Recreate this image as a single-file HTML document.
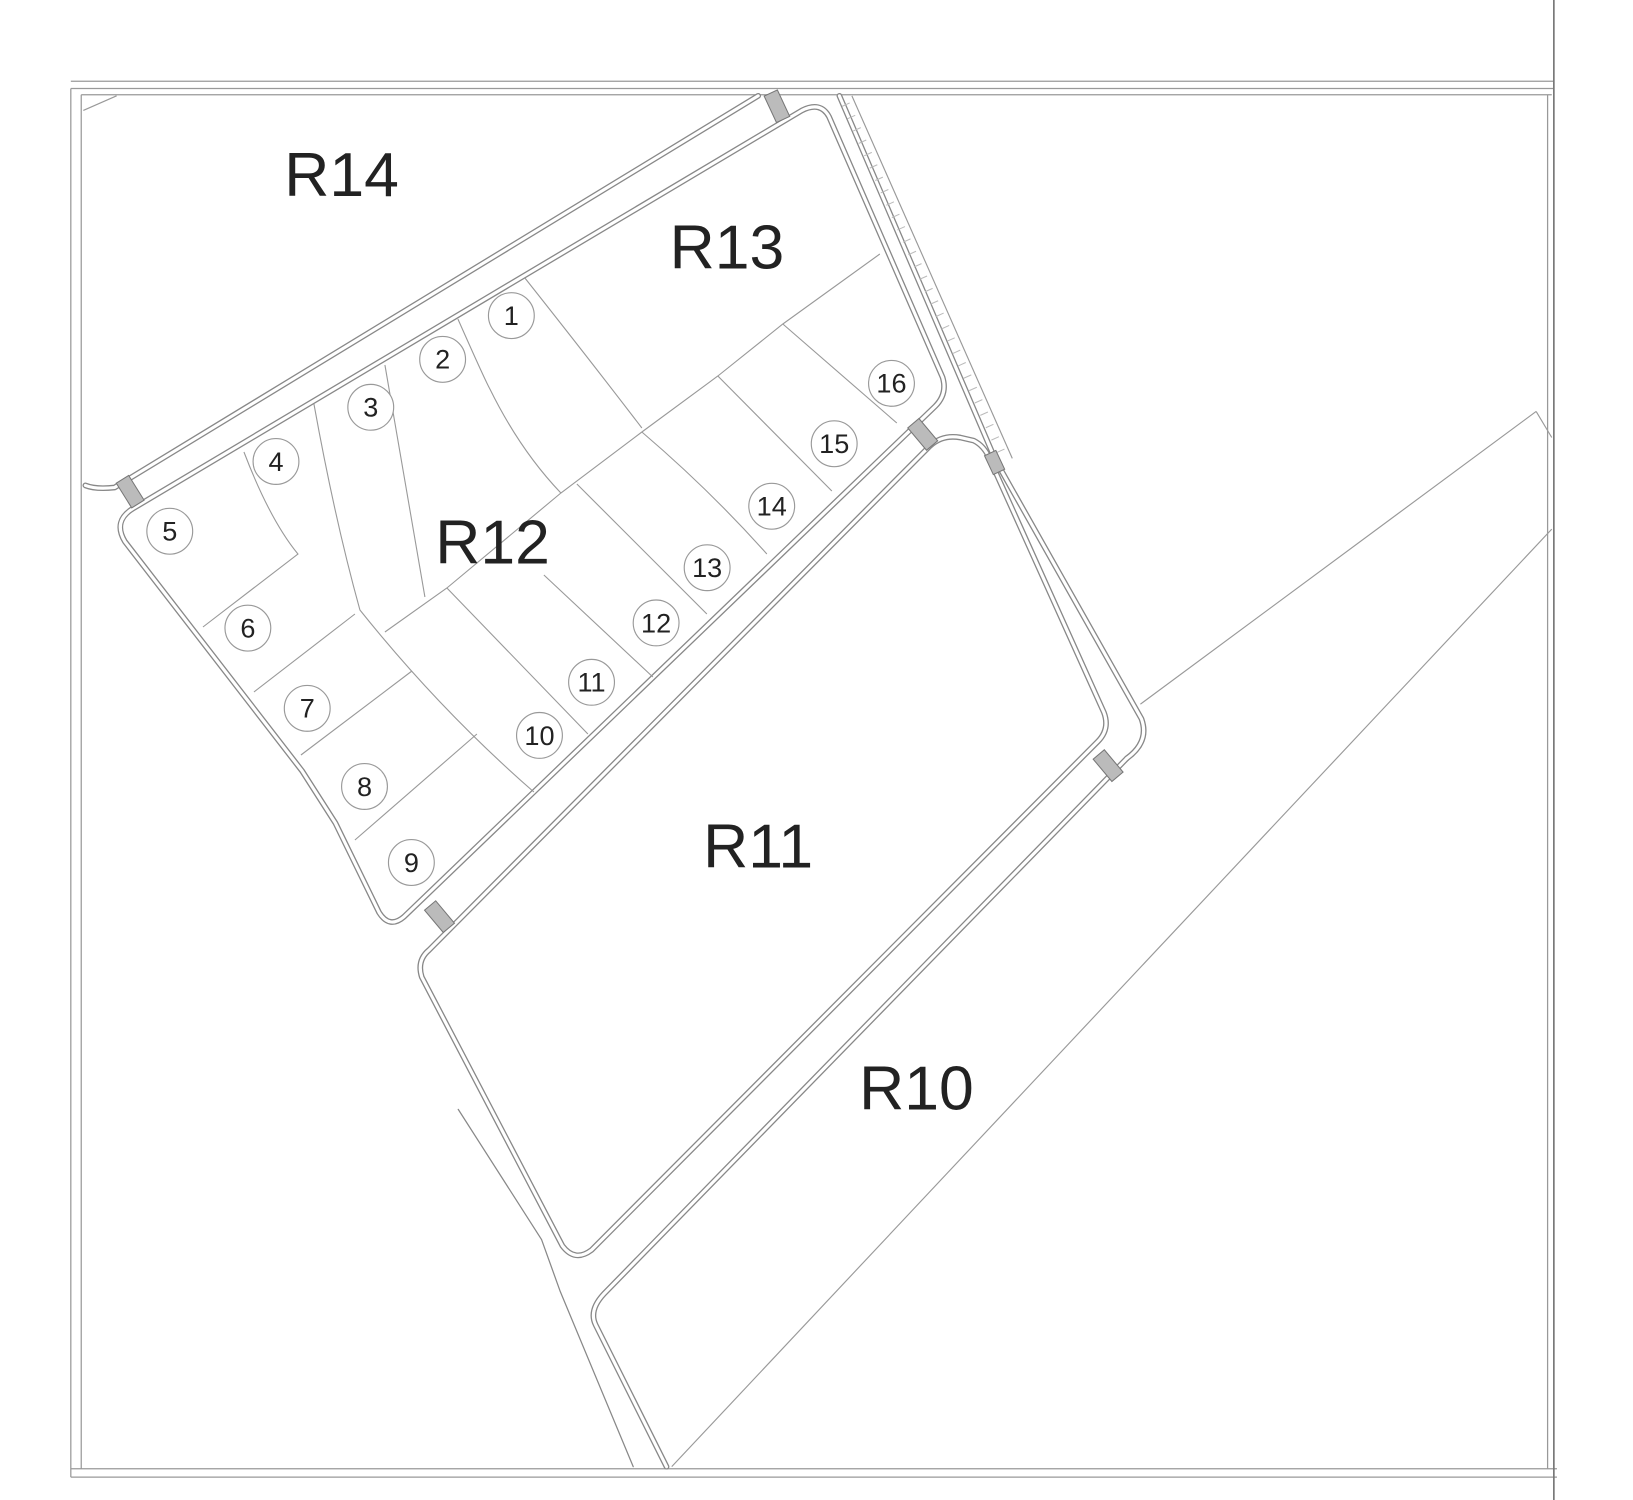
<!DOCTYPE html>
<html><head><meta charset="utf-8"><style>
html,body{margin:0;padding:0;background:#fff;}
svg{display:block;}
text{font-family:"Liberation Sans",sans-serif;fill:#222;}
</style></head><body>
<svg width="1633" height="1500" viewBox="0 0 1568 1440" preserveAspectRatio="none" xmlns="http://www.w3.org/2000/svg">
<rect width="1568" height="1440" fill="#fff"/>
<g fill="none" stroke="#999" stroke-width="1.2">
<line x1="68" y1="78" x2="1492" y2="78"/>
<line x1="68" y1="85" x2="1492" y2="85"/>
<line x1="78" y1="91" x2="1490" y2="91"/>
<line x1="68" y1="85" x2="68" y2="1418"/>
<line x1="78" y1="91" x2="78" y2="1410"/>
<line x1="68" y1="1410" x2="1495" y2="1410"/>
<line x1="68" y1="1418" x2="1495" y2="1418"/>
<line x1="1492" y1="0" x2="1492" y2="1440" stroke="#777" stroke-width="1.6"/>
<line x1="1486" y1="91" x2="1486" y2="1410"/>
</g>
<g fill="none" stroke-linejoin="round" stroke-linecap="round">
<g stroke="#888" stroke-width="5.5">
<path d="M128 488 L770 106 Q788 97 796 112 L905 362 Q910 378 898 390 L388 880 Q374 892 364 876 L322 790 L290 740 L120 520 Q108 500 128 488 Z"/>
<path d="M893 428 Q905 417 922 420 L935 423 Q945 428 950 440 L1060 684 Q1066 700 1054 712 L568 1200 Q552 1212 540 1196 L405 938 Q400 922 412 912 Z"/>
<path d="M1082 728 L580 1242 Q565 1258 572 1272 L640 1408"/>
<path d="M82 466 Q92 470 110 468 L728 92"/>
<path d="M806 92 L956 442 L1096 690 Q1104 712 1082 728"/>
</g>
<g stroke="#fff" stroke-width="3">
<path d="M128 488 L770 106 Q788 97 796 112 L905 362 Q910 378 898 390 L388 880 Q374 892 364 876 L322 790 L290 740 L120 520 Q108 500 128 488 Z"/>
<path d="M893 428 Q905 417 922 420 L935 423 Q945 428 950 440 L1060 684 Q1066 700 1054 712 L568 1200 Q552 1212 540 1196 L405 938 Q400 922 412 912 Z"/>
<path d="M1082 728 L580 1242 Q565 1258 572 1272 L640 1408"/>
<path d="M82 466 Q92 470 110 468 L728 92"/>
<path d="M806 92 L956 442 L1096 690 Q1104 712 1082 728"/>
</g>
<path d="M440 1065 L520 1190 L538 1240 L608 1408" stroke="#888" stroke-width="1.2"/>
</g>
<g fill="none" stroke="#999" stroke-width="1.1">
<line x1="80" y1="106" x2="112" y2="92"/>
<line x1="818" y1="92" x2="972" y2="440"/>
<line x1="812" y1="100" x2="965" y2="442" stroke-dasharray="1 12" stroke-width="8" stroke="#bbb"/>
<line x1="1095" y1="676" x2="1475" y2="395"/>
<line x1="1475" y1="395" x2="1490" y2="420"/>
<line x1="645" y1="1408" x2="1490" y2="508"/>
</g>
<g transform="scale(0.96)" fill="none" stroke="#999" stroke-width="1.1">
<path d="M525 278 Q590 360 642 428"/>
<path d="M385 632 L447 588 L561 493 L642 432 L718 376 L783 324 L880 254"/>
<path d="M458 319 Q485 380 490 389 Q520 450 561 493"/>
<path d="M385 365 Q405 480 425 597"/>
<path d="M314 404 Q335 520 360 610 Q440 710 534 792"/>
<path d="M244 452 Q270 520 298 554 L203 627"/>
<path d="M447 588 L588 734"/>
<path d="M544 575 L653 677"/>
<path d="M577 484 L707 614"/>
<path d="M642 432 Q710 490 767 554"/>
<path d="M718 376 L832 491"/>
<path d="M783 324 L897 423"/>
<path d="M355 614 L254 692"/>
<path d="M412 671 L301 755"/>
<path d="M477 734 L355 840"/>
</g>
<g fill="#bbb" stroke="#777" stroke-width="1">
<rect x="-7" y="-14" width="14" height="28" transform="translate(125,472) rotate(-32)"/>
<rect x="-7" y="-14" width="14" height="28" transform="translate(746,102) rotate(-25)"/>
<rect x="-7" y="-14" width="14" height="28" transform="translate(886,417) rotate(-40)"/>
<rect x="-7" y="-14" width="14" height="28" transform="translate(422,880) rotate(-40)"/>
<rect x="-7" y="-14" width="14" height="28" transform="translate(1064,735) rotate(-40)"/>
<rect x="-6" y="-10" width="12" height="20" transform="translate(955,444) rotate(-25)"/>
</g>
<g fill="#fff" stroke="#999" stroke-width="1.1">
<circle cx="491" cy="303" r="22"/><circle cx="425" cy="345" r="22"/><circle cx="356" cy="391" r="22"/><circle cx="265" cy="443" r="22"/>
<circle cx="163" cy="510" r="22"/><circle cx="238" cy="603" r="22"/><circle cx="295" cy="680" r="22"/><circle cx="350" cy="755" r="22"/>
<circle cx="395" cy="828" r="22"/><circle cx="518" cy="706" r="22"/><circle cx="568" cy="655" r="22"/><circle cx="630" cy="598" r="22"/>
<circle cx="679" cy="545" r="22"/><circle cx="741" cy="486" r="22"/><circle cx="801" cy="426" r="22"/><circle cx="856" cy="368" r="22"/>
</g>
<g font-size="26" text-anchor="middle">
<text x="491" y="312">1</text><text x="425" y="354">2</text><text x="356" y="400">3</text><text x="265" y="452">4</text>
<text x="163" y="519">5</text><text x="238" y="612">6</text><text x="295" y="689">7</text><text x="350" y="764">8</text>
<text x="395" y="837">9</text><text x="518" y="715">10</text><text x="568" y="664">11</text><text x="630" y="607">12</text>
<text x="679" y="554">13</text><text x="741" y="495">14</text><text x="801" y="435">15</text><text x="856" y="377">16</text>
</g>
<g font-size="60" text-anchor="middle">
<text x="328" y="188">R14</text>
<text x="698" y="258">R13</text>
<text x="473" y="541">R12</text>
<text x="728" y="833">R11</text>
<text x="880" y="1065">R10</text>
</g>
</svg>
</body></html>
